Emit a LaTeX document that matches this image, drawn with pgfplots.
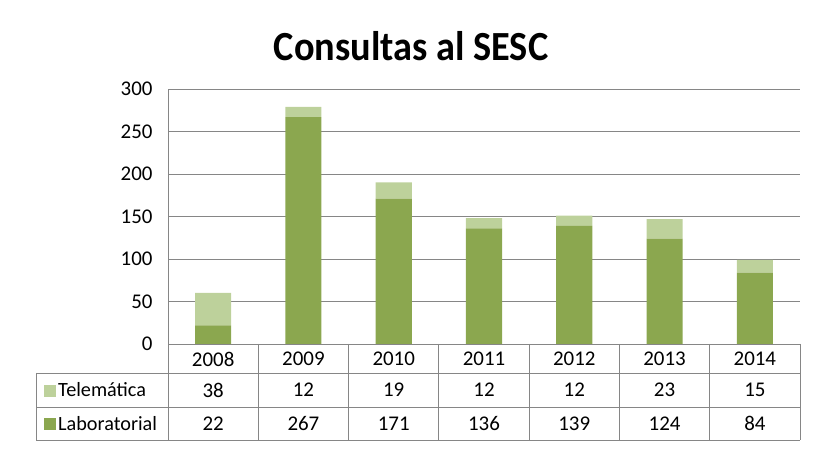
\documentclass[border=0pt]{standalone}
\usepackage{fontspec}
\setmainfont{Carlito}
\usepackage{pgfplots}
\usepackage{pgfplotstable}
\pgfplotsset{compat=1.18}

\definecolor{lab}{HTML}{8BA74F}
\definecolor{tel}{HTML}{BDD19B}
\definecolor{gridc}{HTML}{868686}

\pgfplotstableread{
x year lab tel
0 2008 22 38
1 2009 267 12
2 2010 171 19
3 2011 136 12
4 2012 139 12
5 2013 124 23
6 2014 84 15
}\consultas

\begin{document}
\begin{tikzpicture}[x=1bp,y=1bp]
\useasboundingbox (0,0) rectangle (824,452);
\node[font=\fontsize{38.5}{40}\selectfont\bfseries, yscale=1.08] at (411,406) {Consultas al SESC};

\begin{axis}[
  at={(168bp,108bp)}, anchor=south west,
  scale only axis, width=632bp, height=255bp,
  ybar stacked, bar width=0.4,
  xmin=-0.5, xmax=6.5, ymin=0, ymax=300,
  ytick={0,50,...,300},
  xtick=data, xticklabels from table={\consultas}{year},
  major tick length=0pt,
  axis x line*=bottom, axis y line*=left,
  axis line style={gridc, line width=0.8pt},
  ymajorgrids, grid style={gridc, line width=0.8pt},
  ticklabel style={font=\fontsize{21}{24}\selectfont},
  yticklabel style={anchor=east, xshift=-12bp},
  xticklabel style={anchor=center, yshift=-15bp},
  /pgf/number format/assume math mode=true,
  clip=false,
]
\addplot[fill=lab, draw=none] table[x=x, y=lab] {\consultas};
\addplot[fill=tel, draw=none] table[x=x, y=tel] {\consultas};
\end{axis}

\begin{axis}[
  at={(168bp,108bp)}, anchor=south west,
  scale only axis, width=632bp, height=255bp,
  hide axis, xmin=-0.5, xmax=6.5, ymin=0, ymax=300,
  clip=false,
  /pgf/number format/assume math mode=true,
  point meta=explicit,
  nodes near coords={\pgfmathprintnumber{\pgfplotspointmeta}},
  every node near coord/.append style={anchor=center, font=\fontsize{21}{24}\selectfont},
]
\addplot[draw=none, mark=none, nodes near coords style={yshift=-46bp}]
  table[x=x, y expr=0, meta=tel] {\consultas};
\addplot[draw=none, mark=none, nodes near coords style={yshift=-79.5bp}]
  table[x=x, y expr=0, meta=lab] {\consultas};
\end{axis}

% data table grid
\begin{scope}[draw=gridc, line width=0.8pt]
  \draw (36,79) -- (800,79);
  \draw (36,45) -- (800,45);
  \draw (36,12) -- (800,12);
  \draw (36,79) -- (36,12);
  \foreach \k in {0,...,7} {
    \draw ({168+632/7*\k},108) -- ({168+632/7*\k},12);
  }
\end{scope}
\node[anchor=west, inner sep=0pt, font=\fontsize{20.3}{22}\selectfont] at (44,62)
  {\textcolor{tel}{\rule{12bp}{12bp}}\kern2bp Telemática};
\node[anchor=west, inner sep=0pt, font=\fontsize{20.3}{22}\selectfont] at (44,28.5)
  {\textcolor{lab}{\rule{12bp}{12bp}}\kern2bp Laboratorial};
\end{tikzpicture}
\end{document}
